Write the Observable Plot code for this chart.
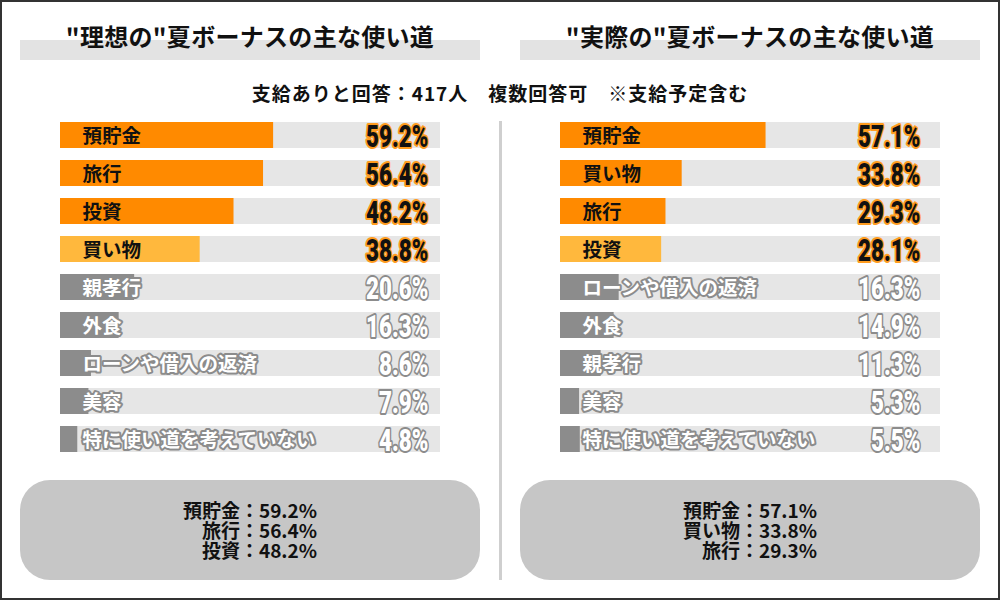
<!DOCTYPE html>
<html><head><meta charset="utf-8">
<script src="https://cdn.jsdelivr.net/npm/d3@7"></script>
<script src="https://cdn.jsdelivr.net/npm/@observablehq/plot@0.6"></script>
<style>
body{margin:0;background:#fff;}
#frame{position:relative;width:1000px;height:600px;background:#fff;font-family:"Noto Sans CJK JP","Noto Sans",sans-serif;color:#111;overflow:hidden;}
#border{position:absolute;left:0;top:0;width:1000px;height:600px;box-sizing:border-box;border:2px solid #333;pointer-events:none;}
.band{position:absolute;background:#e3e3e3;}
.title{position:absolute;text-align:center;font-size:24px;font-weight:bold;letter-spacing:0.3px;line-height:36px;white-space:nowrap;}
.sub{position:absolute;left:0;width:1000px;text-align:center;font-size:19px;font-weight:bold;letter-spacing:1px;line-height:24px;white-space:pre;}
.divider{position:absolute;background:#cfcfcf;}
.chart{position:absolute;}
.box{position:absolute;background:#c6c6c6;border-radius:30px;display:flex;align-items:center;justify-content:center;}
.box .lines{text-align:right;font-size:19px;font-weight:bold;line-height:20px;white-space:pre;}
</style></head>
<body>
<div id="frame">
  <div class="band" style="left:20px;top:40px;width:460px;height:20px"></div>
  <div class="band" style="left:520px;top:40px;width:460px;height:20px"></div>
  <div class="title" id="t1" style="left:0;top:18px;width:500px"></div>
  <div class="title" id="t2" style="left:500px;top:18px;width:500px"></div>
  <div class="sub" id="sub" style="top:81px"></div>
  <div class="divider" style="left:499px;top:121px;width:3px;height:459px"></div>
  <div class="chart" id="c1" style="left:20px;top:110px"></div>
  <div class="chart" id="c2" style="left:520px;top:110px"></div>
  <div class="box" id="b1" style="left:20px;top:480px;width:460px;height:100px"><div class="lines"></div></div>
  <div class="box" id="b2" style="left:520px;top:480px;width:460px;height:100px"><div class="lines"></div></div>
  <div id="border"></div>
</div>
<script>
// ---- data ----
const titleIdeal = "\"理想の\"夏ボーナスの主な使い道";
const titleActual = "\"実際の\"夏ボーナスの主な使い道";
const subtitle = "支給ありと回答：417人　複数回答可　※支給予定含む";

const idealCats = ["預貯金","旅行","投資","買い物","親孝行","外食","ローンや借入の返済","美容","特に使い道を考えていない"];
const idealVals = [59.2,56.4,48.2,38.8,20.6,16.3,8.6,7.9,4.8];

const actualCats = ["預貯金","買い物","旅行","投資","ローンや借入の返済","外食","親孝行","美容","特に使い道を考えていない"];
const actualVals = [57.1,33.8,29.3,28.1,16.3,14.9,11.3,5.3,5.5];

const trackMax = 105.56; // full width of the grey track, in percent units

// ---- styling ----
const barFill = {top:"#ff8a00", fourth:"#ffb83d", other:"#8c8c8c"};
const valStroke = {top:"#ff9c1f", fourth:"#ff9c1f", other:"#8c8c8c"};
const valFill = {top:"#111", fourth:"#111", other:"#fff"};

document.getElementById("t1").textContent = titleIdeal;
document.getElementById("t2").textContent = titleActual;
document.getElementById("sub").textContent = subtitle;

function panel(el, cats, vals, valueOffset) {
  const data = cats.map((c, i) => ({cat: c, v: vals[i], tier: i < 3 ? "top" : i === 3 ? "fourth" : "other"}));
  const W = 460, mL = 40, mR = 40;
  const plot = Plot.plot({
    width: W, height: 354,
    marginTop: 6, marginBottom: 6, marginLeft: mL, marginRight: mR,
    x: {domain: [0, trackMax], axis: null},
    y: {domain: cats, axis: null, paddingInner: 12/38, paddingOuter: 6/38, round: false},
    color: {type: "identity"},
    style: {fontFamily: "'Noto Sans CJK JP', sans-serif", background: "transparent"},
    marks: [
      Plot.barX(data, {x: trackMax, y: "cat", fill: "#e6e6e6"}),
      Plot.barX(data, {x: "v", y: "cat", fill: d => barFill[d.tier]}),
      Plot.text(data.filter(d => d.tier !== "other"), {x: 0, y: "cat", text: "cat", textAnchor: "start", dx: 22, dy: 1,
        fill: "#111", fontSize: 19.5, fontWeight: "bold", ariaDescription: "labels"}),
      Plot.text(data.filter(d => d.tier === "other"), {x: 0, y: "cat", text: "cat", textAnchor: "start", dx: 22, dy: 1,
        fill: "#fff", stroke: "#8c8c8c", strokeWidth: 4, paintOrder: "stroke", strokeLinejoin: "round", fontSize: 19.5, fontWeight: "bold", ariaDescription: "labels"}),
      Plot.text(data, {y: "cat", text: d => d.v.toFixed(1) + "%", frameAnchor: "right", textAnchor: "end", dy: 1.5,
        fill: d => valFill[d.tier], stroke: d => valStroke[d.tier], strokeWidth: 4, paintOrder: "stroke", strokeLinejoin: "round",
        fontSize: 32, fontWeight: 900, fontFamily: "Roboto", ariaDescription: "values"})
    ]
  });
  // condense the value labels horizontally around their right anchor
  const groups = plot.querySelectorAll('g[aria-label="text"]');
  const g = plot.querySelector('g[aria-description="values"]') || groups[groups.length - 1];
  if (g) {
    const X = W - mR;
    const wrap = document.createElementNS("http://www.w3.org/2000/svg", "g");
    wrap.setAttribute("transform", `translate(${X - valueOffset},0) scale(0.7,1) translate(${-X},0)`);
    g.parentNode.insertBefore(wrap, g);
    wrap.appendChild(g);
  }
  el.appendChild(plot);
}
panel(document.getElementById("c1"), idealCats, idealVals, 12);
panel(document.getElementById("c2"), actualCats, actualVals, 20);

function summary(el, cats, vals) {
  el.querySelector(".lines").textContent = cats.slice(0, 3).map((c, i) => `${c}：${vals[i].toFixed(1)}%`).join("\n");
}
summary(document.getElementById("b1"), idealCats, idealVals);
summary(document.getElementById("b2"), actualCats, actualVals);
</script>
</body></html>
